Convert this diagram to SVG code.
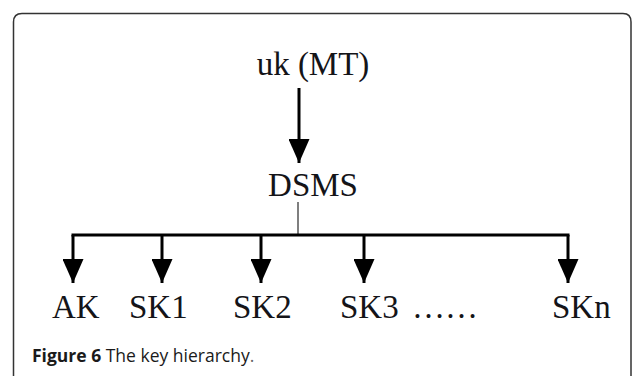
<svg xmlns="http://www.w3.org/2000/svg" width="633" height="376" viewBox="0 0 633 376">
<defs>
<style>
.t{font-family:"Liberation Serif","Times New Roman",serif;font-size:33px;fill:#141418;}
.cap{font-family:"Open Sans","Noto Sans",sans-serif;font-size:17.5px;fill:#1a1a1a;}
.ln{stroke:#000;stroke-width:3;fill:none;}
</style>
<marker id="ah" markerWidth="8" markerHeight="7" refX="8" refY="3.5" orient="auto" markerUnits="strokeWidth">
<path d="M0,0 L8,3.5 L0,7 Z" fill="#000"/>
</marker>
</defs>
<rect width="633" height="376" fill="#fff"/>
<path d="M13.5,376 L13.5,22 Q13.5,13.5 22,13.5 L623,13.5 Q631,13.5 631,22 L631,376" fill="none" stroke="#333" stroke-width="1.5"/>
<g id="connectors">
<line class="ln" x1="299" y1="88" x2="299" y2="163" marker-end="url(#ah)"/>
<line x1="298" y1="202" x2="298" y2="235" stroke="#555" stroke-width="1.5"/>
<line class="ln" x1="71.5" y1="235" x2="569.5" y2="235"/>
<line class="ln" x1="73" y1="235" x2="73" y2="283" marker-end="url(#ah)"/>
<line class="ln" x1="162" y1="235" x2="162" y2="283" marker-end="url(#ah)"/>
<line class="ln" x1="261" y1="235" x2="261" y2="283" marker-end="url(#ah)"/>
<line class="ln" x1="364" y1="235" x2="364" y2="283" marker-end="url(#ah)"/>
<line class="ln" x1="568" y1="235" x2="568" y2="283" marker-end="url(#ah)"/>
</g>
<g id="uk"><text class="t" x="313" y="75" text-anchor="middle">uk (MT)</text></g>
<g id="dsms"><text class="t" x="313" y="196" text-anchor="middle">DSMS</text></g>
<g id="ak"><text class="t" x="52" y="318">AK</text></g>
<g id="sk1"><text class="t" x="129" y="318">SK1</text></g>
<g id="sk2"><text class="t" x="233" y="318">SK2</text></g>
<g id="sk3"><text class="t" x="340" y="318">SK3</text></g>
<g id="dots"><text class="t" x="412" y="318">……</text></g>
<g id="skn"><text class="t" x="552" y="318">SKn</text></g>
<text class="cap" x="32" y="362"><tspan font-weight="bold">Figure 6</tspan> The key hierarchy<tspan fill="#666">.</tspan></text>
</svg>
